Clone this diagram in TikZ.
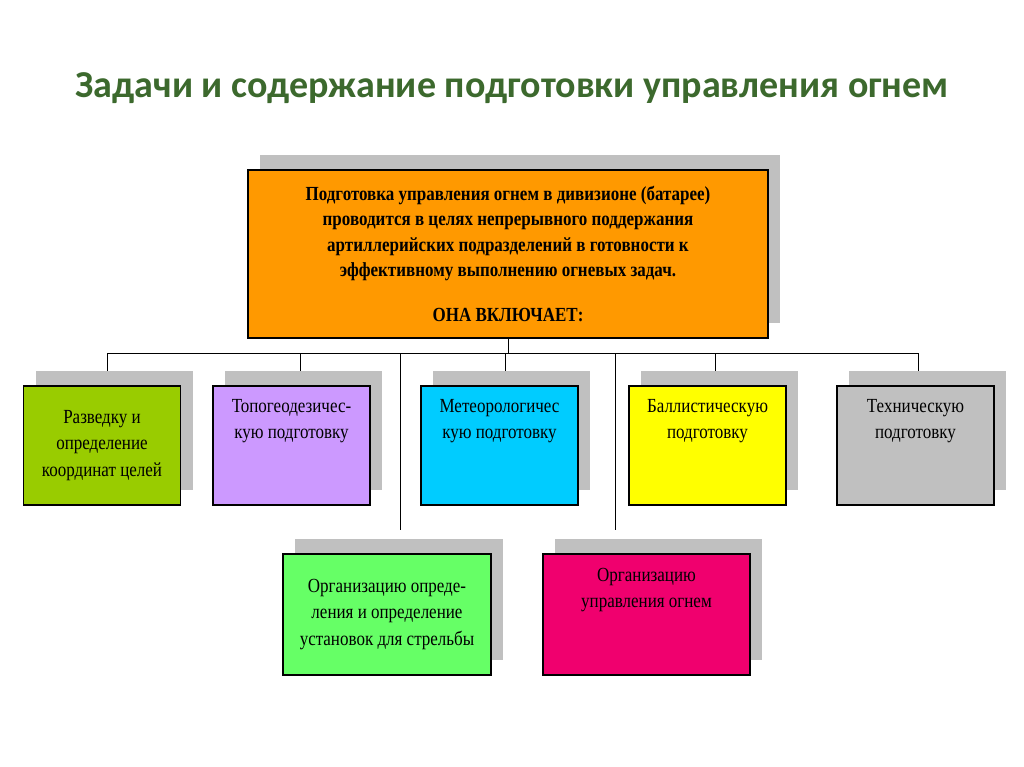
\documentclass[tikz,border=0pt]{standalone}
\usepackage{fontspec}
\setmainfont{Liberation Serif}
\newfontfamily\titlefont{Carlito}
\definecolor{ttl}{RGB}{60,105,45}
\definecolor{shd}{RGB}{192,192,192}
\definecolor{c1}{RGB}{153,204,0}
\definecolor{c2}{RGB}{204,153,255}
\definecolor{c3}{RGB}{0,204,255}
\definecolor{c4}{RGB}{255,255,0}
\definecolor{c5}{RGB}{192,192,192}
\definecolor{c6}{RGB}{102,255,102}
\definecolor{c7}{RGB}{240,0,110}
\definecolor{org}{RGB}{255,153,0}
\begin{document}
\begin{tikzpicture}[x=0.75pt,y=-0.75pt,
  box/.style={draw=black,line width=0.8pt,align=center,inner sep=0pt,font=\fontsize{15}{20}\selectfont\addfontfeatures{FakeStretch=0.85}},
  link/.style={line width=0.7pt}]
\useasboundingbox (0,0) rectangle (1024,767);
\fill[white] (0,0) rectangle (1024,767);
\node[font=\titlefont\bfseries\fontsize{28.5}{32}\selectfont,text=ttl] (title) at (512,88) {Задачи и содержание подготовки управления огнем};
% shadows
\fill[shd] (260,155) rectangle (780,323);
\foreach \x in {24,213,421,629,837}{\fill[shd] (\x+12,371) rectangle (\x+169,490);}
\fill[shd] (295,539) rectangle (503,660);
\fill[shd] (555,539) rectangle (762,660);
% main box
\node[box,fill=org,minimum width=390pt,minimum height=126pt,font=\fontsize{15}{19}\selectfont\addfontfeatures{FakeStretch=0.85}] (top) at (508,254)
 {\textbf{Подготовка управления огнем в дивизионе (батарее)}\\
  \textbf{проводится в целях непрерывного поддержания}\\
  \textbf{артиллерийских подразделений в готовности к}\\
  \textbf{эффективному выполнению огневых задач.}\\[15pt]
  \textbf{ОНА ВКЛЮЧАЕТ:}};
\node[box,fill=c1,minimum width=117.75pt,minimum height=89.25pt] (b1) at (102,445.5) {Разведку и\\определение\\координат целей};
\node[box,fill=c2,minimum width=117.75pt,minimum height=89.25pt] (b2) at (291.5,445.5) {Топогеодезичес-\\кую подготовку\\[20pt]};
\node[box,fill=c3,minimum width=117.75pt,minimum height=89.25pt] (b3) at (499.5,445.5) {Метеорологичес\\кую подготовку\\[20pt]};
\node[box,fill=c4,minimum width=117.75pt,minimum height=89.25pt] (b4) at (707.5,445.5) {Баллистическую\\подготовку\\[20pt]};
\node[box,fill=c5,minimum width=117.75pt,minimum height=89.25pt] (b5) at (915.5,445.5) {Техническую\\подготовку\\[20pt]};
\node[box,fill=c6,minimum width=156pt,minimum height=90.75pt] (b6) at (387,614.5) {Организацию опреде-\\ления и определение\\установок для стрельбы};
\node[box,fill=c7,minimum width=155.25pt,minimum height=90.75pt] (b7) at (646.5,614.5) {Организацию\\управления огнем\\[20pt]};
% connectors
\coordinate (hl) at (107,353);
\coordinate (hr) at (918,353);
\draw[link] (hl) -- (hr);
\draw[link] (top.south) -- (top.south |- hl);
\foreach \x in {107,300,505,715,918}{\draw[link] (\x,353) -- (\x,371);}
\draw[link] (400,353) -- (400,530);
\draw[link] (615,353) -- (615,530);
\end{tikzpicture}
\end{document}
